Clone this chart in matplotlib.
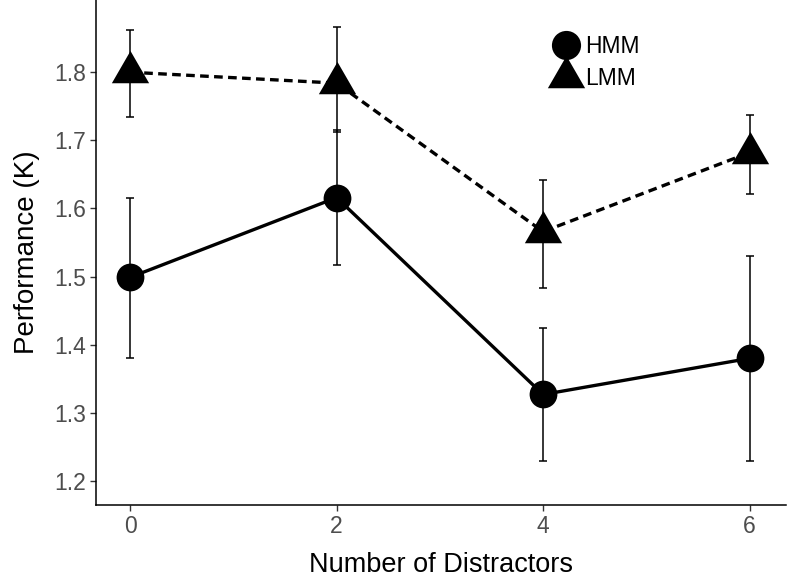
import matplotlib
matplotlib.use("Agg")
import matplotlib.pyplot as plt
from matplotlib.lines import Line2D

plt.rcParams['font.family'] = ['Liberation Sans', 'DejaVu Sans']

distractors = [0, 2, 4, 6]
hmm_mean = [1.499, 1.616, 1.327, 1.380]
hmm_lo = [1.380, 1.517, 1.230, 1.230]
hmm_hi = [1.615, 1.715, 1.424, 1.530]
lmm_mean = [1.800, 1.784, 1.566, 1.682]
lmm_lo = [1.735, 1.712, 1.483, 1.622]
lmm_hi = [1.862, 1.866, 1.642, 1.737]
yticks = [1.2, 1.3, 1.4, 1.5, 1.6, 1.7, 1.8]
xticks = [0, 2, 4, 6]

# equilateral triangle centred on its centroid (ggplot shape 17 style)
tri = [(-1.0, -0.577), (1.0, -0.577), (0.0, 1.155), (-1.0, -0.577)]

fig = plt.figure(figsize=(7.88, 5.77), dpi=100)
ax = fig.add_axes([0.122, 0.125, 0.875, 0.875])

def err(m, lo, hi):
    return [[a - b for a, b in zip(m, lo)], [c - a for a, c in zip(m, hi)]]

ax.errorbar(distractors, hmm_mean, yerr=err(hmm_mean, hmm_lo, hmm_hi), fmt='none',
            ecolor='black', elinewidth=1.1, capsize=2.6, capthick=1.1, zorder=2)
ax.errorbar(distractors, lmm_mean, yerr=err(lmm_mean, lmm_lo, lmm_hi), fmt='none',
            ecolor='black', elinewidth=1.1, capsize=2.6, capthick=1.1, zorder=2)
ax.plot(distractors, hmm_mean, color='black', lw=2.4, ls='-', marker='o',
        markersize=20, mew=0, label='HMM', zorder=3)
ax.plot(distractors, lmm_mean, color='black', lw=2.4, ls=(0, (2.6, 1.6)), marker=tri,
        markersize=31, mew=0, label='LMM', zorder=3)

ax.set_xlim(-0.33, 6.35)
ax.set_ylim(1.165, 1.906)
ax.set_xticks(xticks)
ax.set_yticks(yticks)
ax.set_xticklabels([str(v) for v in xticks])
ax.set_yticklabels([f"{v:.1f}" for v in yticks])
ax.tick_params(axis='both', labelcolor='#4d4d4d', labelsize=16.5, length=4, width=1,
               color='#333333')
for s in ['top', 'right']:
    ax.spines[s].set_visible(False)
for s in ['left', 'bottom']:
    ax.spines[s].set_linewidth(1.1)
ax.set_xlabel('Number of Distractors', fontsize=19.5, labelpad=10)
ax.set_ylabel('Performance (K)', fontsize=20, labelpad=10)

h = [Line2D([], [], color='black', marker='o', ls='none', markersize=21, mew=0),
     Line2D([], [], color='black', marker=tri, ls='none', markersize=31, mew=0)]
ax.legend(h, ['HMM', 'LMM'], loc='center', bbox_to_anchor=(0.73, 0.876),
          frameon=False, fontsize=16.5, handlelength=0.6, handletextpad=0.5,
          labelspacing=0.38, borderpad=0.2)

fig.savefig('out.png', dpi=100)
